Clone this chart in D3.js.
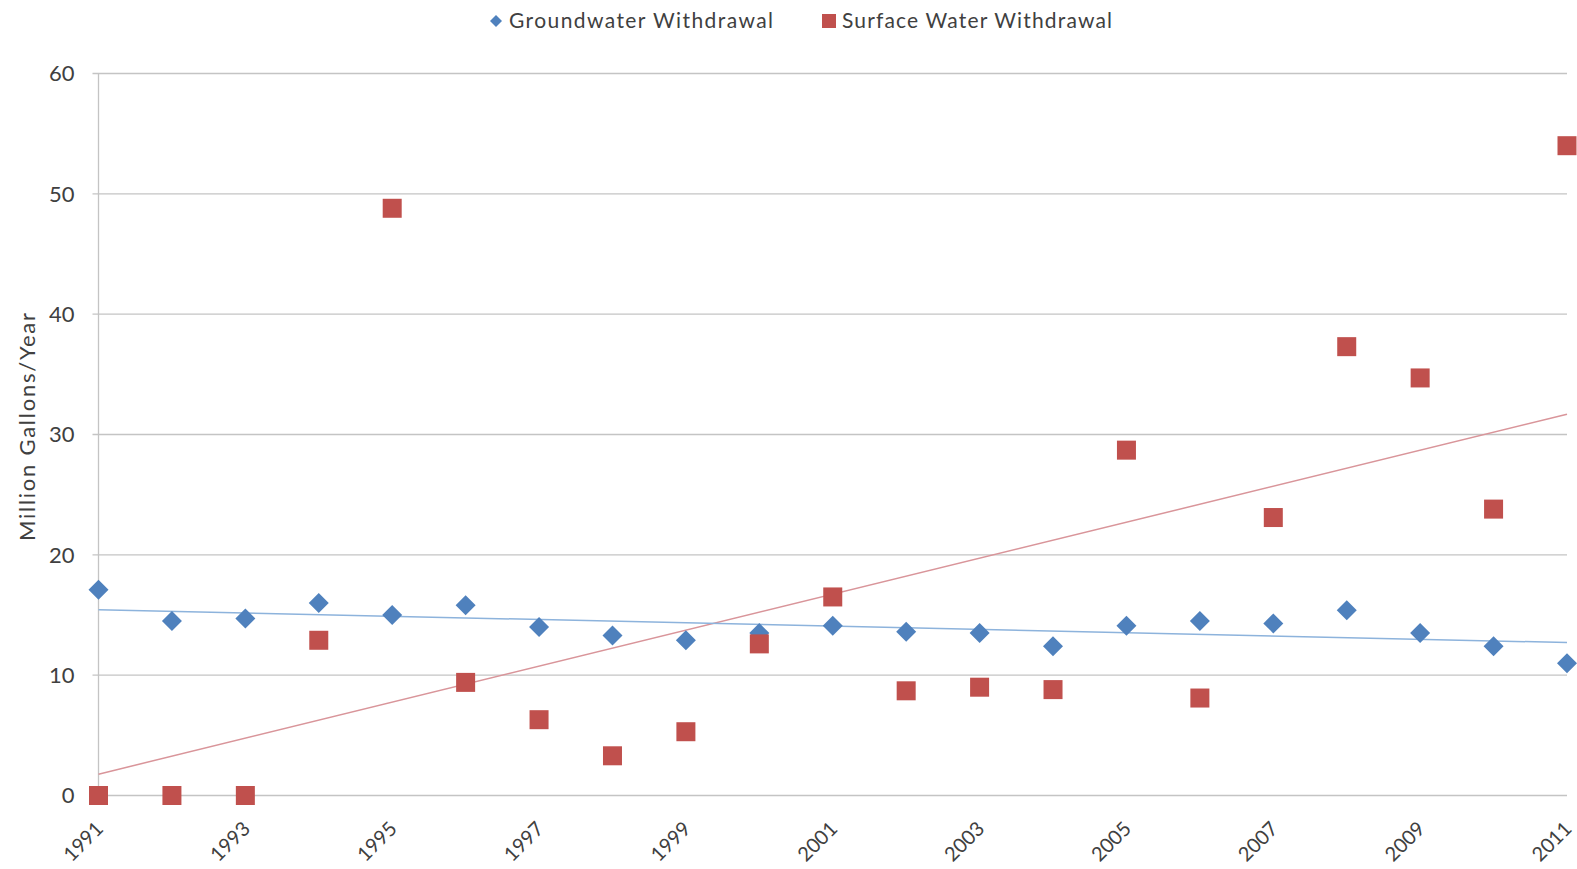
<!doctype html>
<html>
<head>
	<meta charset="utf-8">
	<title>Groundwater and Surface Water Withdrawal</title>
	<script src="https://d3js.org/d3.v7.min.js" charset="utf-8"></script>
	<style>
		body { margin: 0; background: #fff; }
		text { font-family: Lato, "Open Sans", sans-serif; fill: #404040; }
	</style>
</head>

<body>

<script>

const years = d3.range(1991, 2012);
const groundwater = [17.1, 14.5, 14.7, 16.0, 15.0, 15.8, 14.0, 13.3, 12.9, 13.5, 14.1,
                     13.6, 13.5, 12.4, 14.1, 14.5, 14.3, 15.4, 13.5, 12.4, 11.0];
const surface = [0, 0, 0, 12.9, 48.8, 9.4, 6.3, 3.3, 5.3, 12.6, 16.5,
                 8.7, 9.0, 8.8, 28.7, 8.1, 23.1, 37.3, 34.7, 23.8, 54.0];
const yTicks = [0, 10, 20, 30, 40, 50, 60];
const xTicks = d3.range(1991, 2012, 2);

const w = 1577;
const h = 869;

const blue = "#4F81BD";
const red = "#C0504D";

const x = d3.scaleLinear()
			.domain([1991, 2011])
			.range([98.5, 1567]);

const y = d3.scaleLinear()
			.domain([0, 60])
			.range([795.5, 73.5]);

const svg = d3.select("body").append("svg")
							 .attr("width", w)
							 .attr("height", h);

// gridlines
svg.append("g")
   .selectAll("line")
   .data(yTicks)
   .enter()
   .append("line")
   .attr("x1", x(1991) - 6)
   .attr("x2", x(2011))
   .attr("y1", d => y(d))
   .attr("y2", d => y(d))
   .style("stroke", "#c4c4c4")
   .style("stroke-width", 1.3);

// y axis line
svg.append("line")
   .attr("x1", x(1991)).attr("x2", x(1991))
   .attr("y1", y(60)).attr("y2", y(0))
   .style("stroke", "#c4c4c4")
   .style("stroke-width", 1.3);

// y tick labels
svg.append("g")
   .selectAll("text")
   .data(yTicks)
   .enter()
   .append("text")
   .attr("x", x(1991) - 24)
   .attr("y", d => y(d))
   .attr("dy", "0.35em")
   .attr("text-anchor", "end")
   .style("font-size", "22px")
   .text(d => d);

// x tick labels, rotated
svg.append("g")
   .selectAll("text")
   .data(xTicks)
   .enter()
   .append("text")
   .attr("transform", d => "translate(" + (x(d) + 6) + "," + 830 + ") rotate(-45)")
   .attr("text-anchor", "end")
   .style("font-size", "20px")
   .text(d => d);

// y axis title
svg.append("text")
   .attr("transform", "translate(35," + 427 + ") rotate(-90)")
   .attr("text-anchor", "middle")
   .attr("textLength", 228)
   .style("font-size", "22px")
   .text("Million Gallons/Year");

// linear trend lines (least squares)
function trend(values) {
	const mx = d3.mean(years);
	const my = d3.mean(values);
	let num = 0, den = 0;
	for (let i = 0; i < years.length; i++) {
		num += (years[i] - mx) * (values[i] - my);
		den += (years[i] - mx) * (years[i] - mx);
	}
	const b = num / den;
	return [[1991, my + b * (1991 - mx)], [2011, my + b * (2011 - mx)]];
}

const line = d3.line()
			   .x(d => x(d[0]))
			   .y(d => y(d[1]));

svg.append("path")
   .attr("d", line(trend(surface)))
   .style("stroke", "#d9959a")
   .style("stroke-width", 1.5)
   .style("fill", "none");

svg.append("path")
   .attr("d", line(trend(groundwater)))
   .style("stroke", "#8db3dc")
   .style("stroke-width", 1.5)
   .style("fill", "none");

// groundwater diamonds
const dS = 10;
svg.append("g")
   .selectAll("path")
   .data(groundwater)
   .enter()
   .append("path")
   .attr("d", (d, i) => {
		const cx = x(years[i]), cy = y(d);
		return "M" + cx + "," + (cy - dS) + "L" + (cx + dS) + "," + cy +
			   "L" + cx + "," + (cy + dS) + "L" + (cx - dS) + "," + cy + "Z";
   })
   .style("fill", blue);

// surface water squares
const sS = 19;
svg.append("g")
   .selectAll("rect")
   .data(surface)
   .enter()
   .append("rect")
   .attr("x", (d, i) => x(years[i]) - sS / 2)
   .attr("y", d => y(d) - sS / 2)
   .attr("width", sS)
   .attr("height", sS)
   .style("fill", red);

// legend
const legend = svg.append("g");
legend.append("path")
	  .attr("d", "M496,15L502,21L496,27L490,21Z")
	  .style("fill", blue);
legend.append("text")
	  .attr("x", 509).attr("y", 21).attr("dy", "0.35em")
	  .attr("textLength", 264)
	  .style("font-size", "21px")
	  .text("Groundwater Withdrawal");
legend.append("rect")
	  .attr("x", 822).attr("y", 14).attr("width", 14).attr("height", 14)
	  .style("fill", red);
legend.append("text")
	  .attr("x", 842).attr("y", 21).attr("dy", "0.35em")
	  .attr("textLength", 270)
	  .style("font-size", "21px")
	  .text("Surface Water Withdrawal");

</script>

</body>
</html>
